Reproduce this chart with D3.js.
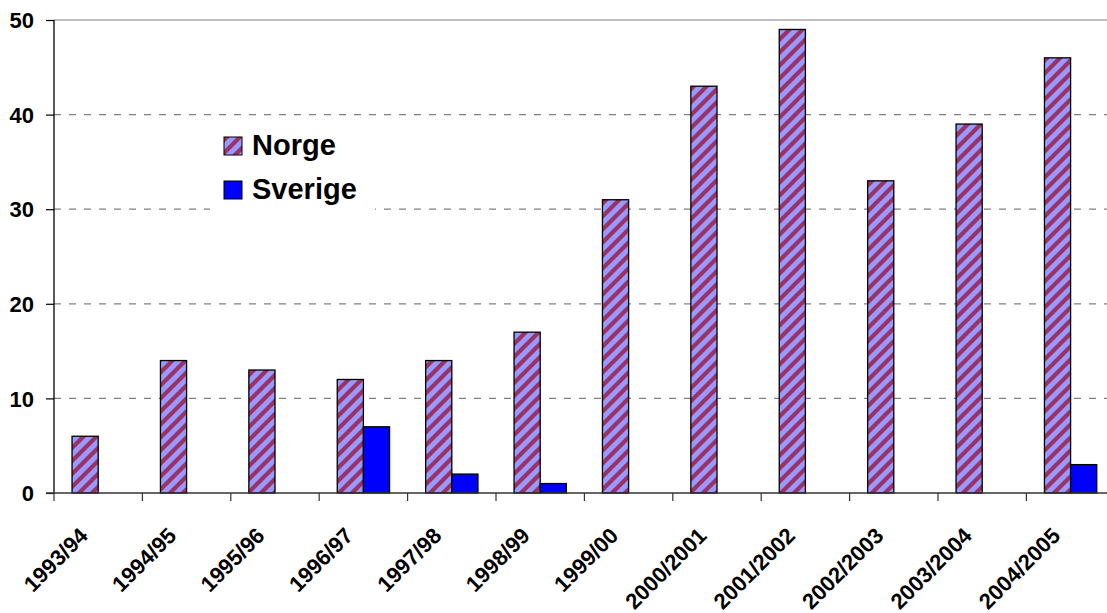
<!DOCTYPE html>
<html><head><meta charset="utf-8">
<script src="https://cdn.jsdelivr.net/npm/d3@7"></script>
<style>html,body{margin:0;padding:0;background:#fff;overflow:hidden}svg{display:block}text{font-family:Arial,"Liberation Sans",sans-serif;font-weight:bold;fill:#000}</style>
</head><body><svg id="c" width="1107" height="613"></svg>
<script>
const categories = ["1993/94","1994/95","1995/96","1996/97","1997/98","1998/99","1999/00","2000/2001","2001/2002","2002/2003","2003/2004","2004/2005"];
const series = ["Norge","Sverige"];
const norge = [6,14,13,12,14,17,31,43,49,33,39,46];
const sverige = [null,null,null,7,2,1,null,null,null,null,null,3];
const yTicks = [0,10,20,30,40,50];

const svg = d3.select("#c");
const L = 54, T = 20, B = 493, R = 54 + 12*88.4;
const x = d3.scaleBand().domain(categories).range([L, R]).padding(0);
const xs = d3.scaleBand().domain(series).range([0, x.bandwidth()]).paddingInner(0).paddingOuter(0.69);
const y = d3.scaleLinear().domain([0,50]).range([B, T]);

const P = 13;
const defs = svg.append("defs");
const pat = defs.append("pattern").attr("id","stripe").attr("patternUnits","userSpaceOnUse").attr("width",P).attr("height",P);
pat.append("rect").attr("width",P).attr("height",P).attr("fill","#9999FF");
pat.append("path").attr("d",`M-2,${P+2} L${P+2},-2 M-4,4 L4,-4 M${P-4},${P+4} L${P+4},${P-4}`).attr("stroke","#993366").attr("stroke-width",4.2);

// gridlines
svg.append("g").selectAll("line").data(yTicks.filter(d=>d>0)).join("line")
  .attr("x1",L).attr("x2",1107).attr("y1",d=>y(d)).attr("y2",d=>y(d))
  .attr("stroke","#808080").attr("stroke-width",1.2)
  .attr("stroke-dasharray",d=>d===50?null:"7,8");

// legend background
svg.append("rect").attr("x",210).attr("y",122).attr("width",165).attr("height",95).attr("fill","#fff");

// bars
const colors = {Norge:"url(#stripe)", Sverige:"#0000FF"};
const data = [];
categories.forEach((c,i)=>{ data.push({c,s:"Norge",v:norge[i]}); if(sverige[i]!=null) data.push({c,s:"Sverige",v:sverige[i]}); });
svg.append("g").selectAll("rect").data(data.filter(d=>d.v!=null)).join("rect")
  .attr("x",d=>x(d.c)+xs(d.s)).attr("width",xs.bandwidth())
  .attr("y",d=>y(d.v)).attr("height",d=>B-y(d.v))
  .attr("fill",d=>colors[d.s]).attr("stroke","#000").attr("stroke-width",1.3);

// y axis
const ya = svg.append("g").attr("transform",`translate(${L},0)`)
  .call(d3.axisLeft(y).tickValues(yTicks).tickSize(8).tickPadding(12).tickFormat(d3.format("d")));
ya.select(".domain").remove();
ya.selectAll(".tick line").attr("stroke","#000").attr("stroke-width",1.2);
ya.selectAll("text").style("font-size","22px").attr("dy","0.35em");
svg.append("line").attr("x1",L).attr("x2",L).attr("y1",T).attr("y2",B).attr("stroke","#000").attr("stroke-width",1.3);

// x axis
svg.append("line").attr("x1",L-8).attr("x2",1107).attr("y1",B).attr("y2",B).attr("stroke","#333").attr("stroke-width",1.5);
svg.append("g").selectAll("line").data(categories.concat(["_end"])).join("line")
  .attr("x1",(d,i)=>L+i*x.step()).attr("x2",(d,i)=>L+i*x.step())
  .attr("y1",B).attr("y2",B+8).attr("stroke","#333").attr("stroke-width",1.2);
svg.append("g").selectAll("text").data(categories).join("text")
  .attr("transform",d=>`translate(${x(d)+x.bandwidth()/2-9},${B+44}) rotate(-45)`)
  .attr("text-anchor","end").style("font-size","22px").text(d=>d);

// legend
const lg = svg.append("g");
series.forEach((s,i)=>{
  const yy = 137 + i*44;
  lg.append("rect").attr("x",224).attr("y",yy).attr("width",18).attr("height",18)
    .attr("fill",colors[s]).attr("stroke","#000").attr("stroke-width",1);
  lg.append("text").attr("x",252).attr("y",yy+18).style("font-size","29px").text(s);
});
</script></body></html>
